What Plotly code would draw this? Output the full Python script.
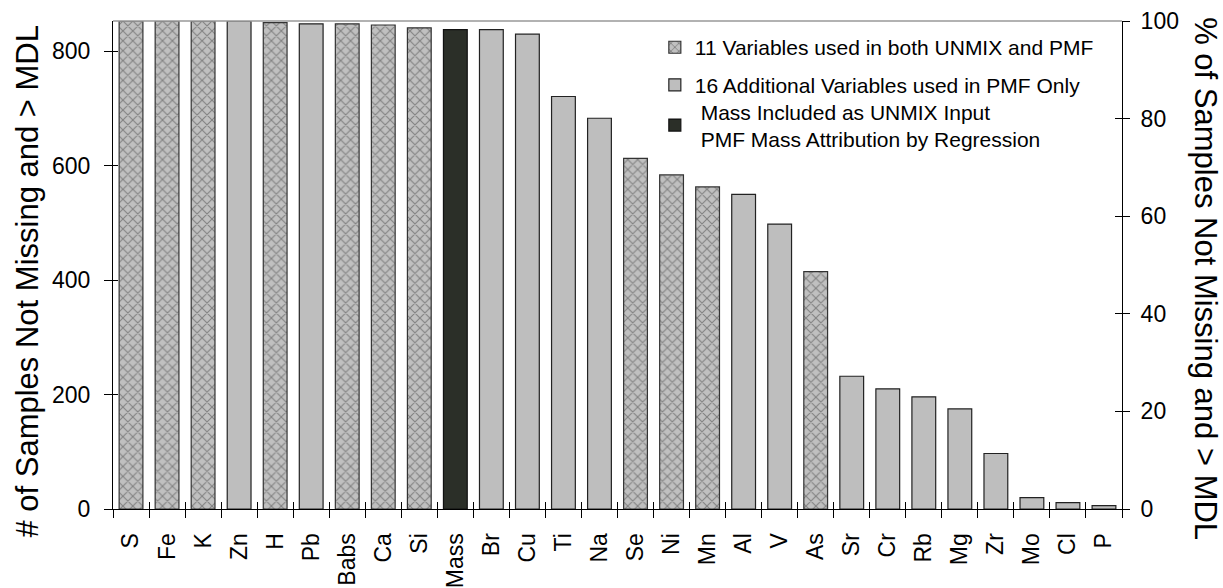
import plotly.graph_objects as go

elements = ["S", "Fe", "K", "Zn", "H", "Pb", "Babs", "Ca", "Si", "Mass", "Br", "Cu", "Ti", "Na",
            "Se", "Ni", "Mn", "Al", "V", "As", "Sr", "Cr", "Rb", "Mg", "Zr", "Mo", "Cl", "P"]
counts = [853, 853, 853, 853, 850, 848, 848, 846, 841, 838, 838, 830, 721, 683,
          613, 584, 563, 550, 498, 415, 232, 210, 196, 175, 97, 20, 11, 6]
both_vars = ["S", "Fe", "K", "H", "Babs", "Ca", "Si", "Se", "Ni", "Mn", "As"]
mass_vars = ["Mass"]
total_samples = 853
left_ticks = [0, 200, 400, 600, 800]
right_ticks = [0, 20, 40, 60, 80, 100]

legend_names = ["11 Variables used in both UNMIX and PMF",
                "16 Additional Variables used in PMF Only",
                "\u00a0Mass Included as UNMIX Input<br>\u00a0PMF Mass Attribution by Regression"]

FONT = "Liberation Sans, Arial, sans-serif"

def subset(kind):
    xs, ys = [], []
    for e, c in zip(elements, counts):
        k = "both" if e in both_vars else ("mass" if e in mass_vars else "pmf")
        if k == kind:
            xs.append(e)
            ys.append(c)
    return xs, ys

fig = go.Figure()
xb, yb = subset("both")
fig.add_trace(go.Bar(x=xb, y=yb, name=legend_names[0], legend="legend",
                     marker=dict(color="#c0c0c0", line=dict(color="#333333", width=1.2),
                                 pattern=dict(shape="x", fgcolor="#444444", bgcolor="#c0c0c0",
                                              size=7, solidity=0.3))))
xp, yp = subset("pmf")
fig.add_trace(go.Bar(x=xp, y=yp, name=legend_names[1], legend="legend2",
                     marker=dict(color="#bebebe", line=dict(color="#222222", width=1.2))))
xm, ym = subset("mass")
fig.add_trace(go.Bar(x=xm, y=ym, name=legend_names[2], legend="legend3",
                     marker=dict(color="#2b2f28", line=dict(color="#111111", width=1.2))))

n = len(elements)
leg_common = dict(xanchor="left", yanchor="top", font=dict(size=21, family=FONT, color="black"),
                  bgcolor="rgba(0,0,0,0)", x=0.537)
fig.update_layout(
    width=1223, height=588,
    margin=dict(l=113, r=101, t=21, b=79),
    paper_bgcolor="white", plot_bgcolor="white",
    barmode="overlay", bargap=0.34,
    font=dict(family=FONT, size=23, color="black"),
    showlegend=True,
    legend=dict(y=0.9875, **leg_common),
    legend2=dict(y=0.9105, **leg_common),
    legend3=dict(y=0.856, **leg_common),
    xaxis=dict(type="category", categoryorder="array", categoryarray=elements,
               range=[-0.5, n - 0.5], tickson="boundaries", ticks="outside", ticklen=8,
               tickcolor="black", tickwidth=1, tickangle=-90, automargin=False,
               showline=True, linecolor="black", linewidth=1, showgrid=False,
               tickfont=dict(size=23, family=FONT), ticklabelstandoff=14),
    xaxis2=dict(overlaying="x", anchor="y", range=[-0.5, n - 0.5], tick0=-0.5, dtick=1,
                ticks="inside", ticklen=7, tickcolor="black", showticklabels=False,
                showgrid=False, zeroline=False, showline=False, automargin=False),
    yaxis=dict(range=[0, total_samples], tickvals=left_ticks, ticks="outside", ticklen=8,
               tickcolor="black", showline=True, linecolor="black", linewidth=1,
               showgrid=False, zeroline=False, tickfont=dict(size=23, family=FONT),
               ticklabelstandoff=9, automargin=False),
    yaxis3=dict(overlaying="y", anchor="x", range=[0, total_samples], tickvals=left_ticks,
                ticks="inside", ticklen=5, tickcolor="black", showticklabels=False,
                showgrid=False, zeroline=False, showline=False, automargin=False),
    yaxis2=dict(overlaying="y", side="right", anchor="x", range=[0, 100], tickvals=right_ticks,
                ticks="outside", ticklen=7, tickcolor="black", showline=True,
                linecolor="black", linewidth=1, showgrid=False, zeroline=False,
                tickfont=dict(size=23, family=FONT), ticklabelstandoff=6, automargin=False),
    yaxis4=dict(overlaying="y", side="right", anchor="x", range=[0, 100], tickvals=right_ticks,
                ticks="inside", ticklen=7, tickcolor="black", showticklabels=False,
                showgrid=False, zeroline=False, showline=False, automargin=False),
)

# invisible helpers so that overlay axes are drawn
fig.add_trace(go.Scatter(x=[0], y=[0], xaxis="x2", yaxis="y", mode="markers",
                         marker=dict(opacity=0), showlegend=False, hoverinfo="skip"))
fig.add_trace(go.Scatter(x=[elements[0]], y=[0], yaxis="y3", mode="markers",
                         marker=dict(opacity=0), showlegend=False, hoverinfo="skip"))
fig.add_trace(go.Scatter(x=[elements[0]], y=[0], yaxis="y2", mode="markers",
                         marker=dict(opacity=0), showlegend=False, hoverinfo="skip"))
fig.add_trace(go.Scatter(x=[elements[0]], y=[0], yaxis="y4", mode="markers",
                         marker=dict(opacity=0), showlegend=False, hoverinfo="skip"))

# top frame line
fig.add_shape(type="line", xref="paper", yref="paper", x0=0, x1=1, y0=1, y1=1,
              line=dict(color="#999999", width=1.5))

# axis titles
fig.add_annotation(text="# of Samples Not Missing and > MDL", xref="paper", yref="paper",
                   x=0, y=0.466, xshift=-85, xanchor="center", yanchor="middle",
                   textangle=-90, showarrow=False, font=dict(size=31, family=FONT))
fig.add_annotation(text="% of Samples Not Missing and > MDL", xref="paper", yref="paper",
                   x=1, y=0.473, xshift=84, xanchor="center", yanchor="middle",
                   textangle=90, showarrow=False, font=dict(size=31, family=FONT))

fig.write_html("out.html")
